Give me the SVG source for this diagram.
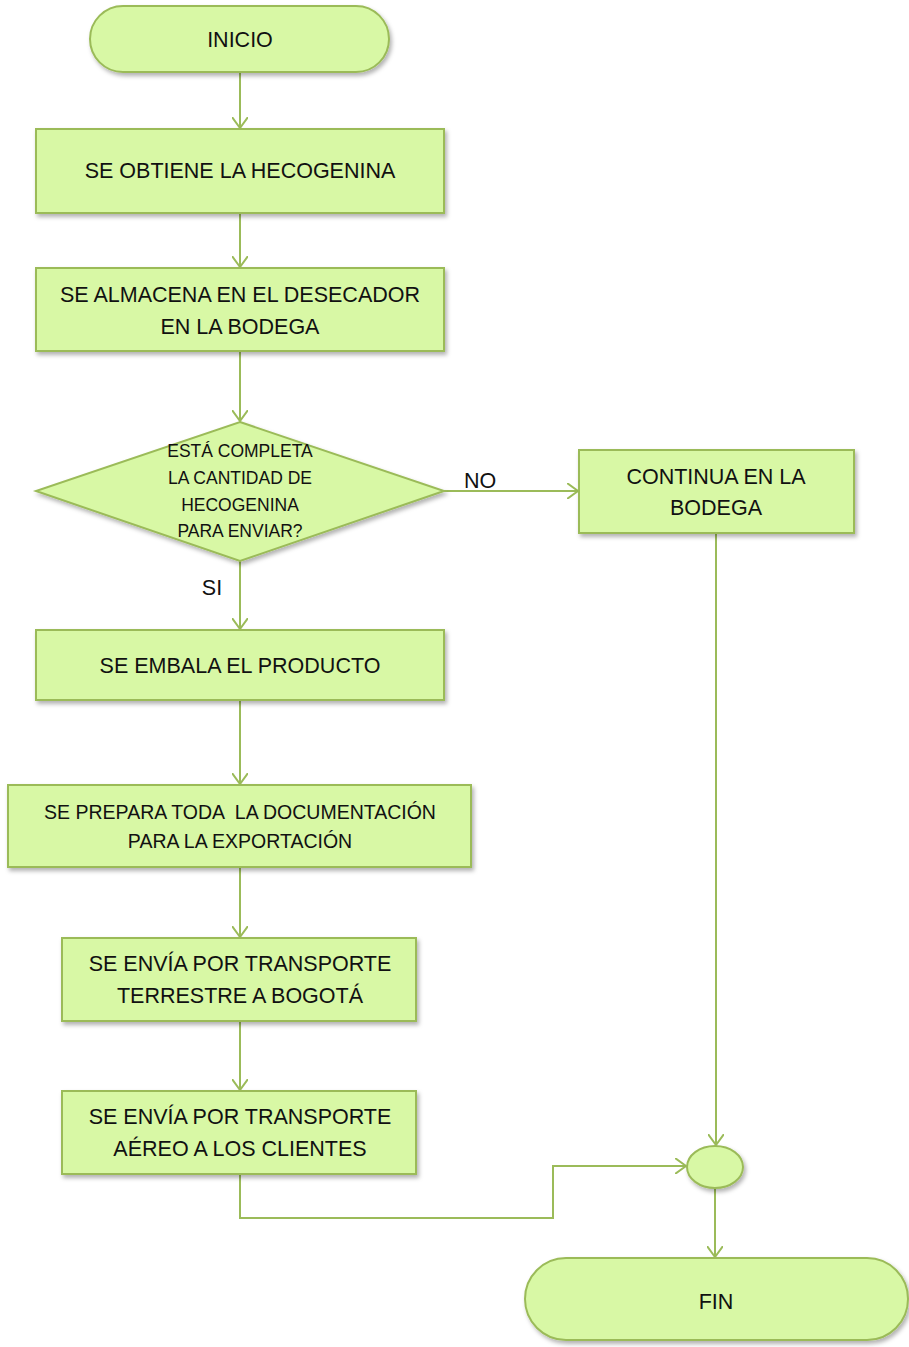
<svg xmlns="http://www.w3.org/2000/svg" width="909" height="1347" viewBox="0 0 909 1347">
  <defs>
    <filter id="shadow" x="-10%" y="-10%" width="125%" height="135%">
      <feDropShadow dx="2" dy="3" stdDeviation="2" flood-color="#000" flood-opacity="0.3"/>
    </filter>
    <marker id="arrow" viewBox="0 0 12 16" refX="11" refY="8" markerWidth="12" markerHeight="16" markerUnits="userSpaceOnUse" orient="auto">
      <path d="M0,0 L11,8 L0,16" fill="none" stroke="#9bbb59" stroke-width="2"/>
    </marker>
  </defs>
  <style>
    .shape { fill: #d8f8a5; stroke: #9bbb59; stroke-width: 2; filter: url(#shadow); }
    .label { font-family: "Liberation Sans", Arial, sans-serif; font-size: 21.5px; fill: #111; text-anchor: middle; dominant-baseline: central; }
    .small { font-size: 17.5px; }
    .mid { font-size: 19.5px; }
    .edge { fill: none; stroke: #9bbb59; stroke-width: 2; marker-end: url(#arrow); }
  </style>

  <!-- connectors -->
  <g id="connectors">
    <path class="edge" d="M240,72 L240,128"/>
    <path class="edge" d="M240,213 L240,267"/>
    <path class="edge" d="M240,351 L240,421"/>
    <path class="edge" d="M444,491 L578,491"/>
    <path class="edge" d="M240,561 L240,629"/>
    <path class="edge" d="M240,700 L240,784"/>
    <path class="edge" d="M240,867 L240,937"/>
    <path class="edge" d="M240,1021 L240,1090"/>
    <path class="edge" d="M240,1174 L240,1218 L553,1218 L553,1166 L686,1166"/>
    <path class="edge" d="M716,533 L716,1145"/>
    <path class="edge" d="M715,1188 L715,1257"/>
    <text class="label" x="480" y="481">NO</text>
    <text class="label" x="212" y="588">SI</text>
  </g>

  <g id="inicio">
    <rect class="shape" x="90" y="6" width="299" height="66" rx="33"/>
    <text class="label" x="240" y="40">INICIO</text>
  </g>

  <g id="obtiene">
    <rect class="shape" x="36" y="129" width="408" height="84"/>
    <text class="label" x="240" y="171">SE OBTIENE LA HECOGENINA</text>
  </g>

  <g id="almacena">
    <rect class="shape" x="36" y="268" width="408" height="83"/>
    <text class="label" x="240" y="295">SE ALMACENA EN EL DESECADOR</text>
    <text class="label" x="240" y="327">EN LA BODEGA</text>
  </g>

  <g id="decision">
    <polygon class="shape" points="240,422 444,491 240,561 36,491"/>
    <text class="label small" x="240" y="451">ESTÁ COMPLETA</text>
    <text class="label small" x="240" y="478">LA CANTIDAD DE</text>
    <text class="label small" x="240" y="505">HECOGENINA</text>
    <text class="label small" x="240" y="531">PARA ENVIAR?</text>
  </g>

  <g id="continua">
    <rect class="shape" x="579" y="450" width="275" height="83"/>
    <text class="label" x="716" y="477">CONTINUA EN LA</text>
    <text class="label" x="716" y="508">BODEGA</text>
  </g>

  <g id="embala">
    <rect class="shape" x="36" y="630" width="408" height="70"/>
    <text class="label" x="240" y="666">SE EMBALA EL PRODUCTO</text>
  </g>

  <g id="documentacion">
    <rect class="shape" x="8" y="785" width="463" height="82"/>
    <text class="label mid" x="240" y="812" xml:space="preserve">SE PREPARA TODA  LA DOCUMENTACIÓN</text>
    <text class="label mid" x="240" y="841">PARA LA EXPORTACIÓN</text>
  </g>

  <g id="terrestre">
    <rect class="shape" x="62" y="938" width="354" height="83"/>
    <text class="label" x="240" y="964">SE ENVÍA POR TRANSPORTE</text>
    <text class="label" x="240" y="996">TERRESTRE A BOGOTÁ</text>
  </g>

  <g id="aereo">
    <rect class="shape" x="62" y="1091" width="354" height="83"/>
    <text class="label" x="240" y="1117">SE ENVÍA POR TRANSPORTE</text>
    <text class="label" x="240" y="1149">AÉREO A LOS CLIENTES</text>
  </g>

  <g id="union">
    <ellipse class="shape" cx="715" cy="1167" rx="28" ry="21"/>
  </g>

  <g id="fin">
    <rect class="shape" x="525" y="1258" width="383" height="82" rx="41"/>
    <text class="label" x="716" y="1302">FIN</text>
  </g>
</svg>
